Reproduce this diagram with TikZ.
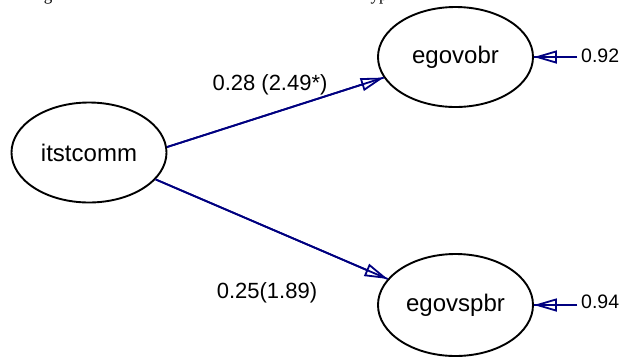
\documentclass[tikz,border=0pt]{standalone}
\usepackage{fontspec}
\setmainfont{Liberation Sans}
\newfontfamily\serifpart{Liberation Serif}
\usetikzlibrary{arrows.meta,shapes.geometric}
\definecolor{pathblue}{RGB}{0,0,128}
\begin{document}
\begin{tikzpicture}[x=1pt,y=-1pt,
  latent/.style={draw=black, line width=1.9pt, ellipse, inner sep=0pt,
    minimum width=155pt, minimum height=100pt, font=\fontsize{24}{28}\selectfont},
  pathline/.style={draw=pathblue, line width=1.8pt},
  patharrow/.style={pathline, -{Triangle[open, length=23pt, width=13pt, line width=1.8pt]}},
  coef/.style={font=\fontsize{22}{26}\selectfont, inner sep=0pt},
  resid/.style={font=\fontsize{19.5}{23}\selectfont, inner sep=0pt, anchor=west}
]
\useasboundingbox (0,0) rectangle (622,360);
\begin{scope}
  \clip (0,0) rectangle (622,360);
  \node[anchor=base, inner sep=0pt, font=\serifpart\fontsize{17}{20}\selectfont] (frag1) at (48,0.5) {g};
  \node[anchor=base, inner sep=0pt, font=\serifpart\fontsize{17}{20}\selectfont] (frag2) at (379,0.5) {yp};
\end{scope}
\node[latent] (it) at (89,152.5) {itstcomm};
\node[latent] (eo) at (455.5,57) {egovobr};
\node[latent, minimum height=102pt] (es) at (455.5,305) {egovspbr};
\coordinate (r1) at (577,57);
\coordinate (r2) at (577,305);
% paths
\draw[pathline] (it.4) -- (eo.196.6);
\draw[patharrow] (it.4) -- (eo.196.6);
\draw[pathline] (it.338) -- (es.159.7);
\draw[patharrow] (it.338) -- (es.159.7);
\draw[pathline] (r1) -- (eo.east);
\draw[patharrow] (r1) -- (eo.east);
\draw[pathline] (r2) -- (es.east);
\draw[patharrow] (r2) -- (es.east);
% labels
\node[coef] (l1) at (270,85) {0.28 (2.49*)};
\node[coef] (l2) at (267,293) {0.25(1.89)};
\node[resid] (e1) at (581,56) {0.92};
\node[resid] (e2) at (581,302) {0.94};
\end{tikzpicture}
\end{document}
